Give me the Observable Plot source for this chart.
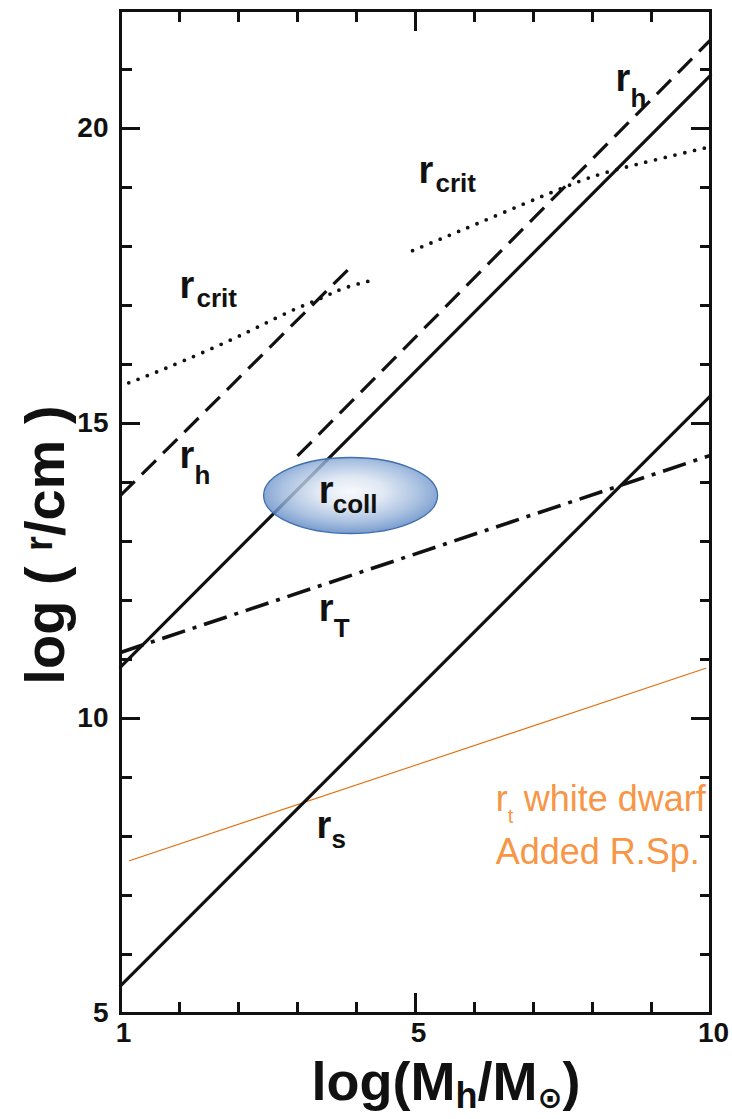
<!DOCTYPE html>
<html>
<head>
<meta charset="utf-8">
<script src="https://cdn.jsdelivr.net/npm/d3@7"></script>
<script src="https://cdn.jsdelivr.net/npm/@observablehq/plot@0.6"></script>
<style>
html,body{margin:0;padding:0;background:#fff;}
#chart svg{display:block;}
</style>
</head>
<body>
<div id="chart"></div>
<script>
// ---------------- data ----------------
const xDomain = [0, 10];
const yDomain = [5, 22];
const xTickValues = [0, 5, 10];
const xTickLabels = ["1", "5", "10"];
const yTickValues = [5, 10, 15, 20];
const yTickLabels = ["5", "10", "15", "20"];
const xMinorTicks = [1, 2, 3, 4, 6, 7, 8, 9];
const xMajorTicks = [5];
const yMinorTicks = [6, 7, 8, 9, 11, 12, 13, 14, 16, 17, 18, 19, 21];
const yMajorTicks = [10, 15, 20];

// r_s (Schwarzschild radius)
const rsX = [0, 10];
const rsY = [5.47, 15.47];
// r_coll
const rCollX = [0, 10];
const rCollY = [10.87, 20.9];
// r_T
const rTX = [0, 10];
const rTY = [11.12, 14.46];
// r_h (two branches)
const rH1X = [0, 3.9];
const rH1Y = [13.78, 17.65];
const rH2X = [3.0, 10];
const rH2Y = [14.45, 21.5];
// r_crit (two branches)
const rCrit1X = [0.14, 0.8, 1.92, 2.83, 3.39, 3.78, 4.32];
const rCrit1Y = [15.69, 15.95, 16.44, 16.88, 17.12, 17.29, 17.44];
const rCrit2X = [4.95, 6.1, 7.51, 8.47, 9.95];
const rCrit2Y = [17.93, 18.41, 19.0, 19.32, 19.68];
// r_t white dwarf (added)
const wdX = [0.15, 9.92];
const wdY = [7.59, 10.85];

// curve labels
const labelMain = ["r", "r", "r", "r", "r", "r", "r"];
const labelSub = ["crit", "crit", "h", "h", "coll", "T", "s"];
const labelX = [1.0, 5.05, 1.0, 8.39, 3.36, 3.36, 3.32];
const labelY = [17.12, 19.07, 14.25, 20.64, 13.66, 11.66, 7.98];

// highlighted label (ellipse)
const highlightX = [3.9];
const highlightY = [13.78];

// orange note
const noteMain = ["r", "Added R.Sp."];
const noteSub = ["t", ""];
const noteRest = ["white dwarf", ""];
const noteX = [6.36, 6.36];
const noteY = [8.44, 7.53];

// ---------------- chart ----------------
const ink = "#111";
const FONT = "Liberation Sans, Arial, sans-serif";
const pts = (xs, ys) => xs.map((x, i) => ({x, y: ys[i]}));
const labels = labelMain.map((m, i) => ({x: labelX[i], y: labelY[i], main: m, sub: labelSub[i]}));
const notes = noteMain.map((m, i) => ({x: noteX[i], y: noteY[i], main: m, sub: noteSub[i], rest: noteRest[i]}));
const highlight = highlightX.map((x, i) => ({x, y: highlightY[i]}));

const ellipseSymbol = {
  draw(ctx) {
    const a = 87, b = 38, k = 0.5523;
    ctx.moveTo(a, 0);
    ctx.bezierCurveTo(a, b * k, a * k, b, 0, b);
    ctx.bezierCurveTo(-a * k, b, -a, b * k, -a, 0);
    ctx.bezierCurveTo(-a, -b * k, -a * k, -b, 0, -b);
    ctx.bezierCurveTo(a * k, -b, a, -b * k, a, 0);
    ctx.closePath();
  }
};

const subShift = {crit: {dx: 17, dy: 9}, h: {dx: 15, dy: 16}, coll: {dx: 14, dy: 10}, T: {dx: 15, dy: 16}, s: {dx: 15, dy: 10}};

const lineOpts = {x: "x", y: "y", stroke: ink, strokeWidth: 3.2};

const marks = [
  Plot.line(pts(wdX, wdY), {x: "x", y: "y", stroke: "#e46c0a", strokeWidth: 1.1}),
  Plot.line(pts(rsX, rsY), lineOpts),
  Plot.line(pts(rCollX, rCollY), lineOpts),
  Plot.line(pts(rTX, rTY), {...lineOpts, strokeWidth: 3.6, strokeDasharray: "24 8 4 8", strokeLinecap: "butt"}),
  Plot.line(pts(rH1X, rH1Y), {...lineOpts, strokeDasharray: "20 10", strokeLinecap: "butt"}),
  Plot.line(pts(rH2X, rH2Y), {...lineOpts, strokeDasharray: "20 10", strokeLinecap: "butt"}),
  Plot.line(pts(rCrit1X, rCrit1Y), {...lineOpts, curve: "natural", strokeWidth: 3.8, strokeDasharray: "0 10", strokeLinecap: "round"}),
  Plot.line(pts(rCrit2X, rCrit2Y), {...lineOpts, curve: "natural", strokeWidth: 3.8, strokeDasharray: "0 10", strokeLinecap: "round"}),
  Plot.dot(highlight, {x: "x", y: "y", symbol: ellipseSymbol, r: 10, fill: "#8aa9d6", fillOpacity: 0.82, stroke: "#3f6fae", strokeWidth: 1.3}),
  // curve labels
  Plot.text(labels, {x: "x", y: "y", text: "main", textAnchor: "start", lineAnchor: "bottom", fontSize: 38, fontWeight: "bold", fontFamily: FONT, fill: ink}),
  ...Object.entries(subShift).map(([k, s]) => Plot.text(labels, {filter: d => d.sub === k, x: "x", y: "y", text: "sub", textAnchor: "start", lineAnchor: "bottom", dx: s.dx, dy: s.dy, fontSize: 26, fontWeight: "bold", fontFamily: FONT, fill: ink})),
  // orange note
  Plot.text(notes, {x: "x", y: "y", text: "main", textAnchor: "start", lineAnchor: "bottom", fontSize: 36, fontFamily: FONT, fill: "#f79646"}),
  Plot.text(notes, {filter: d => d.sub !== "", x: "x", y: "y", text: "sub", textAnchor: "start", lineAnchor: "bottom", dx: 12, dy: 12, fontSize: 20, fontFamily: FONT, fill: "#f79646"}),
  Plot.text(notes, {filter: d => d.rest !== "", x: "x", y: "y", text: "rest", textAnchor: "start", lineAnchor: "bottom", dx: 28, fontSize: 36, fontFamily: FONT, fill: "#f79646"}),
  // frame and ticks
  Plot.frame({stroke: ink, strokeWidth: 3}),
  Plot.axisX(xMinorTicks, {anchor: "bottom", tickSize: -11, strokeWidth: 3, stroke: ink, fill: "none", label: null}),
  Plot.axisX(xMajorTicks, {anchor: "bottom", tickSize: -20, strokeWidth: 3, stroke: ink, fill: "none", label: null}),
  Plot.axisX(xMinorTicks, {anchor: "top", tickSize: -11, strokeWidth: 3, stroke: ink, fill: "none", label: null}),
  Plot.axisX(xMajorTicks, {anchor: "top", tickSize: -20, strokeWidth: 3, stroke: ink, fill: "none", label: null}),
  Plot.axisY(yMinorTicks, {anchor: "left", tickSize: -12, strokeWidth: 3, stroke: ink, fill: "none", label: null}),
  Plot.axisY(yMajorTicks, {anchor: "left", tickSize: -20, strokeWidth: 3, stroke: ink, fill: "none", label: null}),
  Plot.axisY(yMinorTicks, {anchor: "right", tickSize: -11, strokeWidth: 3, stroke: ink, fill: "none", label: null}),
  Plot.axisY(yMajorTicks, {anchor: "right", tickSize: -20, strokeWidth: 3, stroke: ink, fill: "none", label: null}),
  // tick labels
  Plot.text(xTickValues, {x: d => d, text: (d, i) => xTickLabels[i], frameAnchor: "bottom", lineAnchor: "top", dy: 9, dx: 3, fontSize: 28, fontWeight: "bold", fontFamily: FONT, fill: ink}),
  Plot.text(yTickValues, {y: d => d, text: (d, i) => yTickLabels[i], frameAnchor: "left", textAnchor: "end", dx: -12, fontSize: 28, fontWeight: "bold", fontFamily: FONT, fill: ink})
];

const chart = Plot.plot({
  width: 732,
  height: 1119,
  marginLeft: 120,
  marginRight: 22,
  marginTop: 10,
  marginBottom: 106,
  x: {domain: xDomain, label: null},
  y: {domain: yDomain, label: null},
  style: {fontFamily: FONT, background: "#fff", overflow: "visible"},
  marks
});

const svg = d3.select(chart);
// gradient for the highlight ellipse
const defs = svg.insert("defs", ":first-child");
const grad = defs.append("radialGradient").attr("id", "collGrad").attr("cx", "50%").attr("cy", "45%").attr("r", "55%");
[["0%", "#f5f8fc"], ["35%", "#d9e3f1"], ["72%", "#98b4db"], ["100%", "#5b87c3"]].forEach(([o, c]) =>
  grad.append("stop").attr("offset", o).attr("stop-color", c));
svg.selectAll('g[aria-label="dot"] path').attr("fill", "url(#collGrad)");

// axis titles
const xt = svg.append("text").attr("x", 446).attr("y", 1100).attr("text-anchor", "middle")
  .attr("font-family", FONT).attr("font-weight", "bold").attr("font-size", 54).attr("fill", ink);
xt.append("tspan").text("log(M");
xt.append("tspan").attr("dy", 8).attr("font-size", 36).text("h");
xt.append("tspan").attr("dy", -8).text("/M");
xt.append("tspan").attr("dy", 8).attr("font-size", 30).attr("font-family", "DejaVu Sans").text("\u2299");
xt.append("tspan").attr("dy", -8).text(")");

const yt = svg.append("text").attr("transform", "translate(64,545) rotate(-90)").attr("text-anchor", "middle")
  .attr("font-family", FONT).attr("font-weight", "bold").attr("font-size", 56).attr("fill", ink);
yt.append("tspan").text("log ( ");
yt.append("tspan").attr("dy", -12).attr("font-size", 38).text("r");
yt.append("tspan").attr("dy", 12).text("/cm )");

document.getElementById("chart").appendChild(chart);
</script>
</body>
</html>
